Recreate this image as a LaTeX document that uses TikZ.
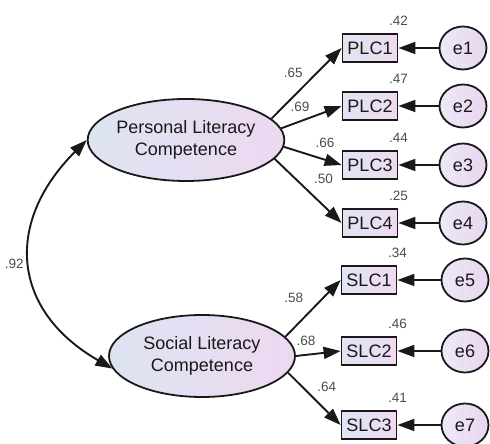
\documentclass[tikz,border=0pt]{standalone}
\usepackage{fontspec}
\setmainfont{Liberation Sans}
\usetikzlibrary{arrows.meta, positioning, shapes.geometric}
\definecolor{latLeft}{RGB}{221,228,242}
\definecolor{latRight}{RGB}{238,216,241}
\definecolor{obsLeft}{RGB}{224,228,243}
\definecolor{obsRight}{RGB}{240,218,241}
\definecolor{errLeft}{RGB}{238,232,246}
\definecolor{errRight}{RGB}{232,214,240}
\definecolor{mainBlack}{gray}{0.1}
\definecolor{subGray}{gray}{0.3}

\begin{document}
\begin{tikzpicture}[x=1pt, y=1pt,
    latent/.style={ellipse, draw=mainBlack, line width=1.8pt, left color=latLeft, right color=latRight,
      minimum width=186pt, minimum height=82pt, inner sep=0pt, align=center, text=mainBlack,
      font=\fontsize{18}{21.5}\selectfont},
    observed/.style={rectangle, draw=mainBlack, line width=1.8pt, left color=obsLeft, right color=obsRight,
      minimum width=55pt, minimum height=28pt, inner sep=0pt, text=mainBlack,
      font=\fontsize{18}{21.5}\selectfont},
    error/.style={ellipse, draw=mainBlack, line width=1.8pt, left color=errLeft, right color=errRight,
      minimum width=47pt, minimum height=43pt, inner sep=0pt, text=mainBlack,
      font=\fontsize{18}{21.5}\selectfont},
    lbl/.style={font=\fontsize{13.5}{15}\selectfont, text=subGray, inner sep=1pt},
    load/.style={line width=1.9pt, mainBlack, -{Triangle[length=17pt, width=12pt]}},
    cov/.style={line width=1.9pt, mainBlack, {Triangle[length=17pt, width=12pt]}-{Triangle[length=17pt, width=12pt]}}
]
    \useasboundingbox (0,0) rectangle (490,444);

    % latent factors
    \node[latent] (plc) at (186,304) {Personal Literacy\\Competence};
    \node[latent] (slc) at (202,88) {Social Literacy\\Competence};

    % indicators
    \node[observed] (plc1) at (370,396) {PLC1};
    \node[observed] (plc2) at (370,338) {PLC2};
    \node[observed] (plc3) at (370,279) {PLC3};
    \node[observed] (plc4) at (370,221) {PLC4};
    \node[observed] (slc1) at (369,164) {SLC1};
    \node[observed] (slc2) at (369,93) {SLC2};
    \node[observed] (slc3) at (369,19) {SLC3};

    % error terms
    \node[error] (e1) at (463,396) {e1};
    \node[error] (e2) at (463,338) {e2};
    \node[error] (e3) at (463,279) {e3};
    \node[error] (e4) at (463,221) {e4};
    \node[error] (e5) at (465,164) {e5};
    \node[error] (e6) at (465,93) {e6};
    \node[error] (e7) at (465,19) {e7};

    % squared multiple correlations
    \node[lbl, above=6pt of plc1.north east] (r1) {.42};
    \node[lbl, above=6pt of plc2.north east] (r2) {.47};
    \node[lbl, above=6pt of plc3.north east] (r3) {.44};
    \node[lbl, above=6pt of plc4.north east] (r4) {.25};
    \node[lbl, above=6pt of slc1.north east] (r5) {.34};
    \node[lbl, above=6pt of slc2.north east] (r6) {.46};
    \node[lbl, above=6pt of slc3.north east] (r7) {.41};

    % loadings
    \draw[load] (plc.14) -- (plc1.west) node[lbl, midway, above left=4pt and 2pt] {.65};
    \draw[load] (plc.7) -- (plc2.west) node[lbl, midway, above left=4pt and 0pt] {.69};
    \draw[load] (plc.-4) -- (plc3.west) node[lbl, midway, above right=6pt and 1pt] {.66};
    \draw[load] (plc.-12) -- (plc4.west) node[lbl, midway, above right=5pt and 4pt] {.50};
    \draw[load] (slc.13) -- (slc1.west) node[lbl, midway, above left=4pt and 8pt] {.58};
    \draw[load] (slc.0) -- (slc2.west) node[lbl, midway, above left=6pt and 1pt] {.68};
    \draw[load] (slc.-11) -- (slc3.west) node[lbl, midway, above right=5pt and 1pt] {.64};

    % residuals
    \foreach \i/\j in {e1/plc1, e2/plc2, e3/plc3, e4/plc4, e5/slc1, e6/slc2, e7/slc3}
        \draw[load] (\i) -- (\j);

    % correlation
    \draw[cov] (plc.west) to[out=225, in=150, looseness=1.3] node[lbl, midway, left=5pt] {.92} (slc.188);
\end{tikzpicture}
\end{document}
